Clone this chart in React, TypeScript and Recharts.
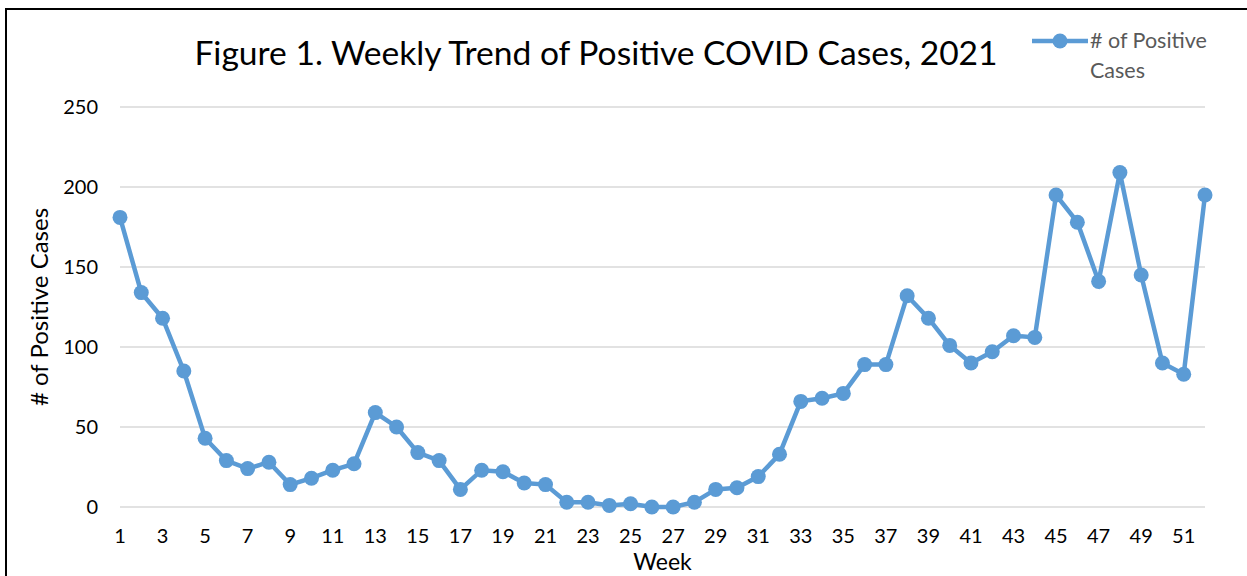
import { LineChart, Line, XAxis, YAxis, CartesianGrid, Label } from "recharts"

const weeks = Array.from({ length: 52 }, (_, i) => String(i + 1))

const positiveCases = [
  181, 134, 118, 85, 43, 29, 24, 28, 14, 18, 23, 27, 59, 50, 34, 29, 11, 23, 22, 15,
  14, 3, 3, 1, 2, 0, 0, 3, 11, 12, 19, 33, 66, 68, 71, 89, 89, 132, 118, 101,
  90, 97, 107, 106, 195, 178, 141, 209, 145, 90, 83, 195,
]

const yTicks = [0, 50, 100, 150, 200, 250]

const TITLE = "Figure 1. Weekly Trend of Positive COVID Cases, 2021"
const SERIES_NAME = "# of Positive Cases"
const LINE_COLOR = "#5B9BD5"
const FONT = "Lato, 'Open Sans', sans-serif"

const data = weeks.map((week, i) => ({ week, cases: positiveCases[i] }))

// legend drawn by hand, Excel style: line + marker, text wrapped on two lines
const ChartLegend = () => (
  <svg
    width={200}
    height={64}
    style={{ position: "absolute", left: 1023, top: 15, overflow: "visible" }}
  >
    <line x1={2} y1={16} x2={58} y2={16} stroke={LINE_COLOR} strokeWidth={4.5} />
    <circle cx={30} cy={16} r={7.5} fill={LINE_COLOR} />
    <text x={60} y={23} fontSize={21.5} fill="#595959" fontFamily={FONT}>
      # of Positive
    </text>
    <text x={60} y={53} fontSize={21.5} fill="#595959" fontFamily={FONT}>
      Cases
    </text>
  </svg>
)

export default function App() {
  return (
    <div
      style={{
        position: "fixed",
        left: 5,
        top: 8,
        width: 1250,
        height: 580,
        border: "2px solid #000",
        fontFamily: FONT,
        background: "#fff",
      }}
    >
      <div
        style={{
          position: "absolute",
          left: 0,
          width: 1178,
          top: 22,
          textAlign: "center",
          fontSize: 33.6,
          color: "#000",
          whiteSpace: "nowrap",
        }}
      >
        {TITLE}
      </div>
      <ChartLegend />
      <LineChart
        width={1245}
        height={570}
        data={data}
        margin={{ top: 97, right: 47, bottom: 13, left: 13 }}
      >
        <CartesianGrid vertical={false} stroke="#d9d9d9" strokeWidth={1.5} />
        <XAxis
          dataKey="week"
          interval={1}
          axisLine={false}
          tickLine={false}
          tickSize={0}
          tickMargin={22}
          height={60}
          tick={{ fontSize: 20, fill: "#000", fontFamily: FONT }}
        >
          <Label
            value="Week"
            position="insideBottom"
            offset={-3}
            style={{ fontSize: 23, fill: "#000", fontFamily: FONT }}
          />
        </XAxis>
        <YAxis
          domain={[0, 250]}
          ticks={yTicks}
          width={100}
          axisLine={false}
          tickLine={false}
          tickSize={0}
          tickMargin={22}
          tick={{ fontSize: 20, fill: "#000", fontFamily: FONT }}
        >
          <Label
            value={SERIES_NAME}
            angle={-90}
            position="insideLeft"
            offset={19}
            style={{ fontSize: 24, fill: "#000", fontFamily: FONT, textAnchor: "middle" }}
          />
        </YAxis>
        <Line
          type="linear"
          dataKey="cases"
          name={SERIES_NAME}
          stroke={LINE_COLOR}
          strokeWidth={4.5}
          dot={{ r: 7.5, fill: LINE_COLOR, stroke: LINE_COLOR, strokeWidth: 0 }}
          activeDot={false}
          isAnimationActive={false}
        />
      </LineChart>
    </div>
  )
}
